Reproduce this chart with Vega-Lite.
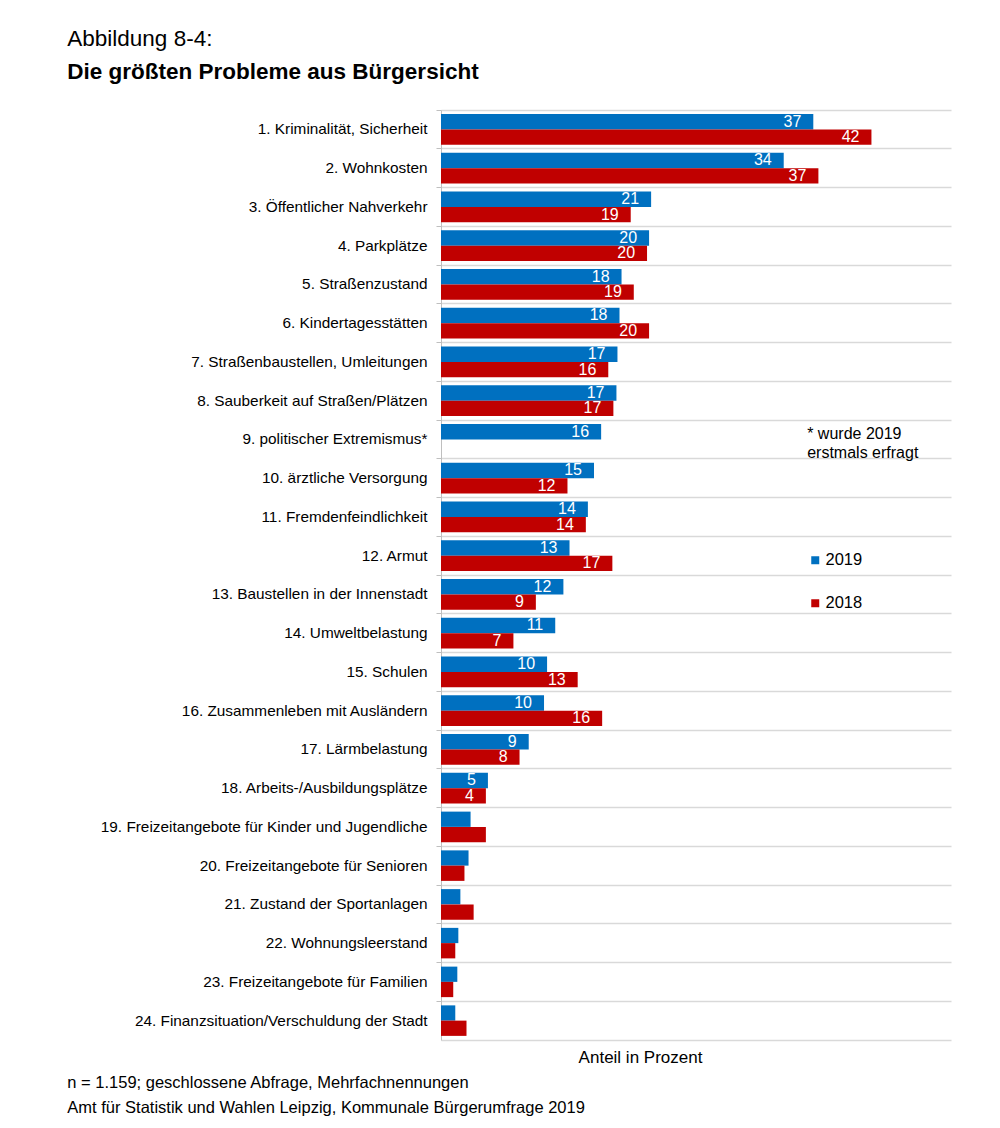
{
  "$schema": "https://vega.github.io/schema/vega-lite/v6.json",
  "background": "white",
  "padding": {"left": 67, "top": 27, "right": 20, "bottom": 5},
  "config": {
    "font": "Liberation Sans",
    "view": {"stroke": null}
  },
  "title": {
    "text": "Abbildung 8-4:",
    "subtitle": "Die größten Probleme aus Bürgersicht",
    "anchor": "start",
    "frame": "bounds",
    "fontSize": 22.5,
    "fontWeight": "normal",
    "color": "black",
    "subtitleFontSize": 22.5,
    "subtitleFontWeight": "bold",
    "subtitleColor": "black",
    "subtitlePadding": 11,
    "offset": 26
  },
  "datasets": {
    "probleme": [
      {"cat": "1. Kriminalität, Sicherheit", "year": "2019", "value": 36.5, "label": "37"},
      {"cat": "1. Kriminalität, Sicherheit", "year": "2018", "value": 42.2, "label": "42"},
      {"cat": "2. Wohnkosten", "year": "2019", "value": 33.6, "label": "34"},
      {"cat": "2. Wohnkosten", "year": "2018", "value": 37.0, "label": "37"},
      {"cat": "3. Öffentlicher Nahverkehr", "year": "2019", "value": 20.6, "label": "21"},
      {"cat": "3. Öffentlicher Nahverkehr", "year": "2018", "value": 18.6, "label": "19"},
      {"cat": "4. Parkplätze", "year": "2019", "value": 20.4, "label": "20"},
      {"cat": "4. Parkplätze", "year": "2018", "value": 20.2, "label": "20"},
      {"cat": "5. Straßenzustand", "year": "2019", "value": 17.7, "label": "18"},
      {"cat": "5. Straßenzustand", "year": "2018", "value": 18.9, "label": "19"},
      {"cat": "6. Kindertagesstätten", "year": "2019", "value": 17.5, "label": "18"},
      {"cat": "6. Kindertagesstätten", "year": "2018", "value": 20.4, "label": "20"},
      {"cat": "7. Straßenbaustellen, Umleitungen", "year": "2019", "value": 17.3, "label": "17"},
      {"cat": "7. Straßenbaustellen, Umleitungen", "year": "2018", "value": 16.4, "label": "16"},
      {"cat": "8. Sauberkeit auf Straßen/Plätzen", "year": "2019", "value": 17.2, "label": "17"},
      {"cat": "8. Sauberkeit auf Straßen/Plätzen", "year": "2018", "value": 16.9, "label": "17"},
      {"cat": "9. politischer Extremismus*", "year": "2019", "value": 15.7, "label": "16"},
      {"cat": "10. ärztliche Versorgung", "year": "2019", "value": 15.0, "label": "15"},
      {"cat": "10. ärztliche Versorgung", "year": "2018", "value": 12.4, "label": "12"},
      {"cat": "11. Fremdenfeindlichkeit", "year": "2019", "value": 14.4, "label": "14"},
      {"cat": "11. Fremdenfeindlichkeit", "year": "2018", "value": 14.2, "label": "14"},
      {"cat": "12. Armut", "year": "2019", "value": 12.6, "label": "13"},
      {"cat": "12. Armut", "year": "2018", "value": 16.8, "label": "17"},
      {"cat": "13. Baustellen in der Innenstadt", "year": "2019", "value": 12.0, "label": "12"},
      {"cat": "13. Baustellen in der Innenstadt", "year": "2018", "value": 9.3, "label": "9"},
      {"cat": "14. Umweltbelastung", "year": "2019", "value": 11.2, "label": "11"},
      {"cat": "14. Umweltbelastung", "year": "2018", "value": 7.1, "label": "7"},
      {"cat": "15. Schulen", "year": "2019", "value": 10.4, "label": "10"},
      {"cat": "15. Schulen", "year": "2018", "value": 13.4, "label": "13"},
      {"cat": "16. Zusammenleben mit Ausländern", "year": "2019", "value": 10.1, "label": "10"},
      {"cat": "16. Zusammenleben mit Ausländern", "year": "2018", "value": 15.8, "label": "16"},
      {"cat": "17. Lärmbelastung", "year": "2019", "value": 8.6, "label": "9"},
      {"cat": "17. Lärmbelastung", "year": "2018", "value": 7.7, "label": "8"},
      {"cat": "18. Arbeits-/Ausbildungsplätze", "year": "2019", "value": 4.6, "label": "5"},
      {"cat": "18. Arbeits-/Ausbildungsplätze", "year": "2018", "value": 4.4, "label": "4"},
      {"cat": "19. Freizeitangebote für Kinder und Jugendliche", "year": "2019", "value": 2.9, "label": ""},
      {"cat": "19. Freizeitangebote für Kinder und Jugendliche", "year": "2018", "value": 4.4, "label": ""},
      {"cat": "20. Freizeitangebote für Senioren", "year": "2019", "value": 2.7, "label": ""},
      {"cat": "20. Freizeitangebote für Senioren", "year": "2018", "value": 2.3, "label": ""},
      {"cat": "21. Zustand der Sportanlagen", "year": "2019", "value": 1.9, "label": ""},
      {"cat": "21. Zustand der Sportanlagen", "year": "2018", "value": 3.2, "label": ""},
      {"cat": "22. Wohnungsleerstand", "year": "2019", "value": 1.7, "label": ""},
      {"cat": "22. Wohnungsleerstand", "year": "2018", "value": 1.4, "label": ""},
      {"cat": "23. Freizeitangebote für Familien", "year": "2019", "value": 1.6, "label": ""},
      {"cat": "23. Freizeitangebote für Familien", "year": "2018", "value": 1.2, "label": ""},
      {"cat": "24. Finanzsituation/Verschuldung der Stadt", "year": "2019", "value": 1.4, "label": ""},
      {"cat": "24. Finanzsituation/Verschuldung der Stadt", "year": "2018", "value": 2.5, "label": ""}
    ],
    "note": [
      {"cat": "9. politischer Extremismus*", "pos": 35.9, "text": "* wurde 2019\n\u00a0erstmals erfragt"}
    ]
  },
  "vconcat": [
    {
      "width": 510,
      "height": 930,
      "title": {
        "text": ["n = 1.159; geschlossene Abfrage, Mehrfachnennungen", "Amt für Statistik und Wahlen Leipzig, Kommunale Bürgerumfrage 2019"],
        "orient": "bottom",
        "anchor": "start",
        "frame": "bounds",
        "fontSize": 16.5,
        "fontWeight": "normal",
        "color": "black",
        "lineHeight": 25,
        "offset": 10,
        "dx": -33
      },
      "layer": [
        {
          "data": {"name": "probleme"},
          "mark": {"type": "bar"},
          "encoding": {
            "y": {
              "field": "cat",
              "type": "nominal",
              "sort": null,
              "scale": {"paddingInner": 0, "paddingOuter": 0},
              "axis": {
                "title": null,
                "labelFontSize": 15.35,
                "labelColor": "black",
                "labelLimit": 400,
                "labelPadding": 9,
                "tickSize": 5,
                "tickColor": "#bfbfbf",
                "domainColor": "#bfbfbf",
                "bandPosition": 0,
                "grid": true,
                "gridColor": "#d9d9d9",
                "gridWidth": 1.5
              }
            },
            "yOffset": {
              "field": "year",
              "type": "nominal",
              "sort": ["2019", "2018"],
              "scale": {"paddingInner": 0, "paddingOuter": 0.27}
            },
            "x": {
              "field": "value",
              "type": "quantitative",
              "scale": {"domain": [0, 50], "nice": false},
              "axis": {
                "title": "Anteil in Prozent",
                "titleFontSize": 17,
                "titleFontWeight": "normal",
                "titleColor": "black",
                "titleX": 199,
                "titleAlign": "center",
                "titlePadding": 9,
                "labels": false,
                "ticks": false,
                "grid": false,
                "domainColor": "#d9d9d9",
                "domainWidth": 1.5
              }
            },
            "color": {
              "field": "year",
              "type": "nominal",
              "scale": {"domain": ["2019", "2018"], "range": ["#0070C0", "#C00000"]},
              "legend": {
                "title": null,
                "orient": "none",
                "legendX": 366,
                "legendY": 442,
                "symbolType": "square",
                "symbolSize": 64,
                "symbolStrokeWidth": 0,
                "labelFontSize": 16.5,
                "labelColor": "black",
                "labelOffset": 2,
                "rowPadding": 26
              }
            }
          }
        },
        {
          "data": {"name": "probleme"},
          "mark": {"type": "text", "align": "right", "baseline": "middle", "dx": -12, "fontSize": 16, "color": "white"},
          "encoding": {
            "y": {"field": "cat", "type": "nominal", "sort": null},
            "yOffset": {"field": "year", "type": "nominal", "sort": ["2019", "2018"]},
            "x": {"field": "value", "type": "quantitative"},
            "text": {"field": "label"}
          }
        },
        {
          "data": {"name": "note"},
          "mark": {"type": "text", "align": "left", "baseline": "middle", "fontSize": 16, "color": "black", "lineBreak": "\n", "lineHeight": 19, "dy": -5},
          "encoding": {
            "y": {"field": "cat", "type": "nominal", "sort": null},
            "x": {"field": "pos", "type": "quantitative"},
            "text": {"field": "text"}
          }
        }
      ]
    }
  ]
}
